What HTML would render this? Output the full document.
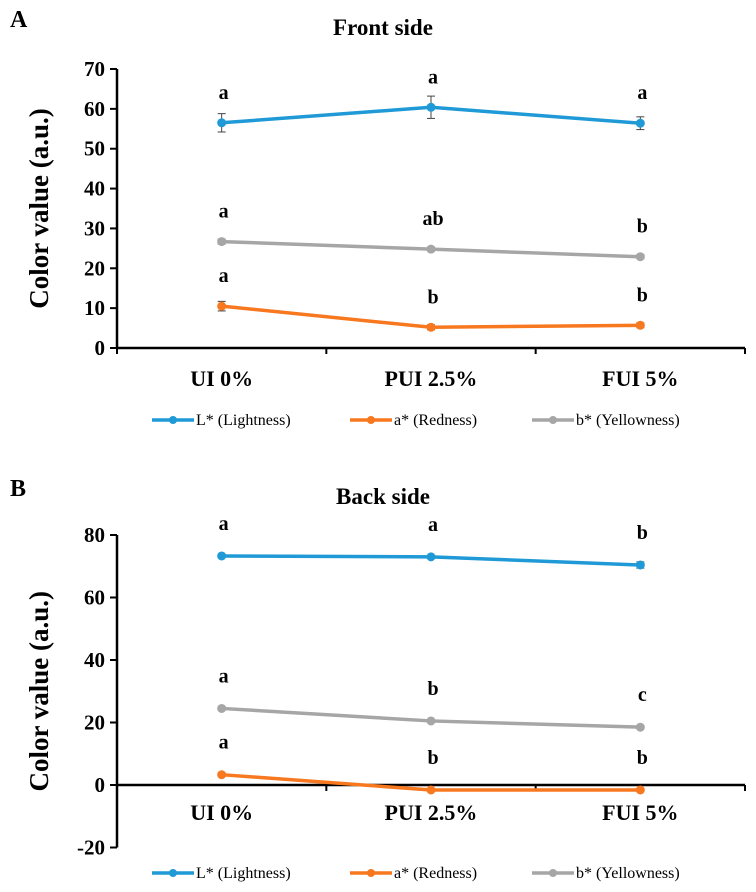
<!DOCTYPE html>
<html><head><meta charset="utf-8"><style>
body{margin:0;background:#fff;}
svg{display:block;font-family:"Liberation Serif",serif;}
</style></head><body>
<svg id="chart" width="756" height="892" viewBox="0 0 756 892"></svg>
<script>
const categories=["UI 0%","PUI 2.5%","FUI 5%"];
const seriesNames=["L* (Lightness)","a* (Redness)","b* (Yellowness)"];
const colors=["#1f9ad6","#f7781f","#a6a6a6"];
const frontL=[56.5,60.4,56.4];
const frontA=[10.5,5.2,5.7];
const frontB=[26.7,24.8,22.9];
const frontLErr=[2.3,2.8,1.6];
const frontAErr=[1.2,0.6,0.6];
const frontBErr=[0.6,0.5,0.5];
const frontLLetters=["a","a","a"];
const frontALetters=["a","b","b"];
const frontBLetters=["a","ab","b"];
const backL=[73.3,73.0,70.4];
const backA=[3.3,-1.6,-1.6];
const backB=[24.5,20.5,18.5];
const backLErr=[0.5,0.5,1.0];
const backAErr=[0.4,0.4,0.4];
const backBErr=[0.5,0.5,0.5];
const backLLetters=["a","a","b"];
const backALetters=["a","b","b"];
const backBLetters=["a","b","c"];
const frontTicks=[0,10,20,30,40,50,60,70];
const backTicks=[-20,0,20,40,60,80];

const NS="http://www.w3.org/2000/svg";
const svg=document.getElementById('chart');
function mk(tag,attrs,parent,text){const e=document.createElementNS(NS,tag);for(const k in attrs)e.setAttribute(k,attrs[k]);if(text!==undefined)e.textContent=text;(parent||svg).appendChild(e);return e;}

function panel(cfg){
  const g=mk('g',{});
  
  
  const x0=117,x1=745,yTop=cfg.yTop,yBot=cfg.yBot,vmin=cfg.ticks[0],vmax=cfg.ticks[cfg.ticks.length-1];
  const y=v=>yBot-(v-vmin)/(vmax-vmin)*(yBot-yTop);
  const bw=(x1-x0)/categories.length;
  const x=i=>x0+bw*(i+0.5);
  const lab=mk('text',{x:10,y:cfg.labelY,'font-size':24,'font-weight':'bold'},g,cfg.letter);
  
  const t=mk('text',{x:383,y:cfg.labelY+8,'font-size':23,'font-weight':'bold','text-anchor':'middle'},g,cfg.title);
  
  const yt=mk('text',{x:0,y:0,'font-size':27,'font-weight':'bold','text-anchor':'middle',transform:`translate(48,${(yTop+yBot)/2}) rotate(-90)`},g,'Color value (a.u.)');
  
  const ya=mk('line',{x1:x0,y1:yTop,x2:x0,y2:yBot,stroke:'#000','stroke-width':2.5},g);
  
  cfg.ticks.forEach(v=>{
    mk('line',{x1:x0-7,y1:y(v),x2:x0,y2:y(v),stroke:'#000','stroke-width':2},g);
    const tl=mk('text',{x:x0-12,y:y(v)+7,'font-size':21,'font-weight':'bold','text-anchor':'end'},g,String(v));
    
  });
  const y0=y(0);
  const xa=mk('line',{x1:x0,y1:y0,x2:x1,y2:y0,stroke:'#000','stroke-width':2.5},g);
  
  for(let i=0;i<=categories.length;i++){mk('line',{x1:x0+bw*i,y1:y0,x2:x0+bw*i,y2:y0+6,stroke:'#000','stroke-width':2},g);}
  categories.forEach((c,i)=>{
    const cl=mk('text',{x:x(i),y:cfg.catY,'font-size':22,'font-weight':'bold','text-anchor':'middle'},g,c);
    
  });
  cfg.series.forEach((s,si)=>{
    const sg=mk('g',{},g);
    
    
    mk('polyline',{points:s.vals.map((v,i)=>x(i)+','+y(v)).join(' '),fill:'none',stroke:colors[si],'stroke-width':3.5},sg);
    s.vals.forEach((v,i)=>{
      const e=s.err[i];
      mk('line',{x1:x(i),y1:y(v+e),x2:x(i),y2:y(v-e),stroke:'#444','stroke-width':1},sg);
      mk('line',{x1:x(i)-4,y1:y(v+e),x2:x(i)+4,y2:y(v+e),stroke:'#444','stroke-width':1},sg);
      mk('line',{x1:x(i)-4,y1:y(v-e),x2:x(i)+4,y2:y(v-e),stroke:'#444','stroke-width':1},sg);
      const p=mk('circle',{cx:x(i),cy:y(v),r:4.5,fill:colors[si]},sg);
      
      const lt=mk('text',{x:x(i)+2,y:y(v)-cfg.letterOff,'font-size':20,'font-weight':'bold','text-anchor':'middle'},sg,s.letters[i]);
      
    });
  });
  const lg=mk('g',{},g);
  
  const lx=[152,350,532];
  seriesNames.forEach((n,si)=>{
    const eg=mk('g',{},lg);
    
    mk('line',{x1:lx[si],y1:cfg.legY-5,x2:lx[si]+42,y2:cfg.legY-5,stroke:colors[si],'stroke-width':3.5},eg);
    mk('circle',{cx:lx[si]+21,cy:cfg.legY-5,r:4,fill:colors[si]},eg);
    mk('text',{x:lx[si]+44,y:cfg.legY,'font-size':16},eg,n);
  });
}
panel({name:'front-side-panel',letter:'A',title:'Front side',labelY:27,yTop:69,yBot:348,ticks:frontTicks,catY:386,legY:425,letterOff:24,
  series:[{vals:frontL,err:frontLErr,letters:frontLLetters},{vals:frontA,err:frontAErr,letters:frontALetters},{vals:frontB,err:frontBErr,letters:frontBLetters}]});
panel({name:'back-side-panel',letter:'B',title:'Back side',labelY:496,yTop:535,yBot:847.5,ticks:backTicks,catY:820,legY:878,letterOff:26,
  series:[{vals:backL,err:backLErr,letters:backLLetters},{vals:backA,err:backAErr,letters:backALetters},{vals:backB,err:backBErr,letters:backBLetters}]});
</script>
</body></html>
